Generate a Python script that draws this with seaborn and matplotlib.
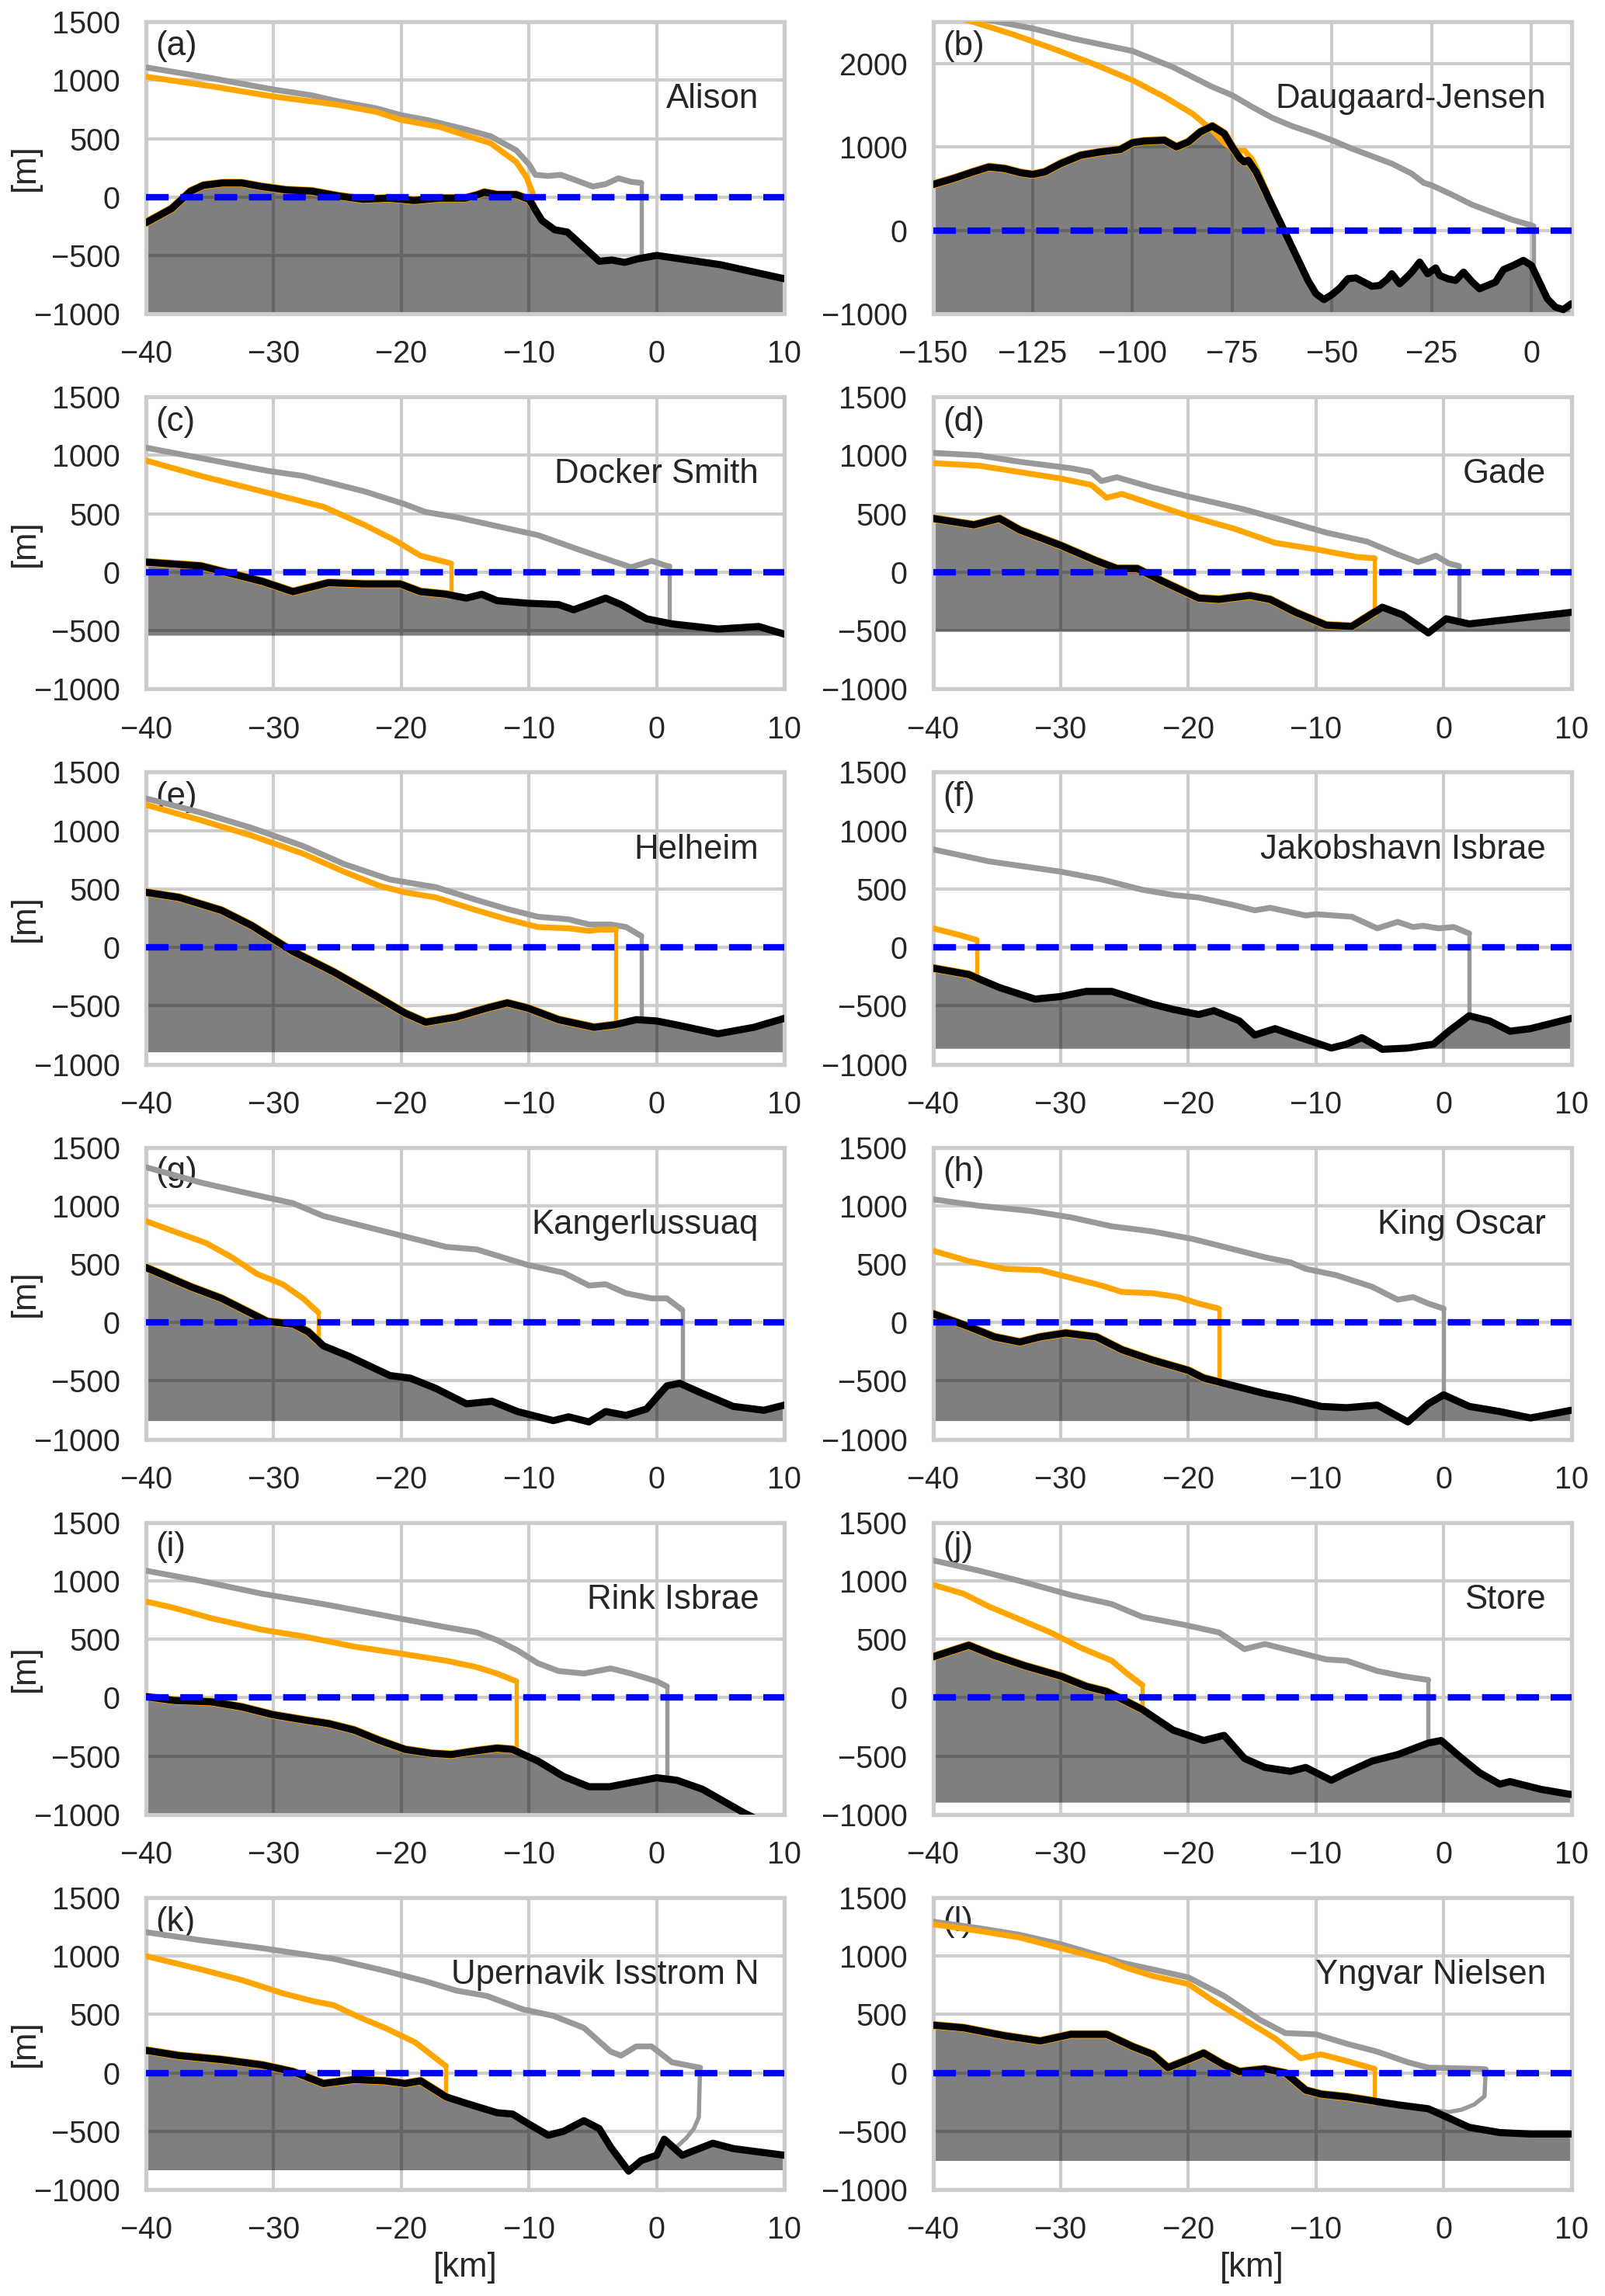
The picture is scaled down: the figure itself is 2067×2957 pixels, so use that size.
import numpy as np
import matplotlib
matplotlib.use("Agg")
import matplotlib.pyplot as plt
import seaborn as sns

# Glacier names and panel tags
names = ["Alison", "Daugaard-Jensen", "Docker Smith", "Gade", "Helheim", "Jakobshavn Isbrae",
         "Kangerlussuaq", "King Oscar", "Rink Isbrae", "Store", "Upernavik Isstrom N", "Yngvar Nielsen"]
tags = ["(a)", "(b)", "(c)", "(d)", "(e)", "(f)", "(g)", "(h)", "(i)", "(j)", "(k)", "(l)"]

# bottom of the shaded bed area [m]
fill_base = [-1000, -1000, -540, -505, -895, -865, -840, -840, -1000, -895, -830, -750]

# ---- (a) Alison
alison_bed_x = [-40, -38, -36.5, -35.5, -34, -32.5, -31, -29, -27, -25, -23, -21, -19, -17, -15, -14, -13.5,
                -12.5, -11, -10, -9, -8, -7, -6, -4.5, -3.5, -2.5, -1.5, 0, 5, 10]
alison_bed_y = [-220, -100, 50, 100, 120, 120, 90, 60, 50, 10, -20, -10, -30, -10, -10, 20, 40,
                20, 20, -20, -200, -280, -300, -400, -550, -540, -560, -530, -500, -580, -700]
alison_or_x = [-40, -35, -30, -25, -22, -20, -17, -15, -13, -12, -11, -10.2, -9.7]
alison_or_y = [1030, 950, 860, 790, 730, 660, 600, 530, 460, 380, 300, 170, 30]
alison_gr_x = [-40, -35, -30, -27, -25, -22, -20, -18, -15, -13, -12, -11, -10, -9.5, -8.5, -7.5, -6.5,
               -5, -4, -3, -2, -1.2]
alison_gr_y = [1110, 1020, 920, 870, 820, 760, 700, 660, 580, 520, 460, 400, 280, 190, 180, 190, 150,
               90, 110, 160, 130, 120]

# ---- (b) Daugaard-Jensen
daug_bed_x = [-150, -145, -140, -136, -132, -128, -125, -122, -118, -113, -108, -103, -100, -97, -92, -89,
              -86, -83, -80, -77, -75, -73, -72, -71, -69, -67, -65, -62, -59, -56, -54, -52, -50, -48,
              -46, -44, -42, -40, -38, -36, -35, -33, -31, -30, -28, -26, -24, -23, -21, -19, -17, -15,
              -13, -11, -9, -7, -5, -2, 0, 2, 4, 6, 8, 10]
daug_bed_y = [550, 620, 700, 760, 740, 690, 670, 700, 800, 900, 940, 970, 1050, 1070, 1080, 1000,
              1060, 1180, 1250, 1160, 1000, 860, 820, 840, 700, 500, 300, 0, -300, -600, -760, -830,
              -770, -690, -580, -570, -620, -670, -660, -580, -520, -640, -550, -500, -380, -520, -450,
              -540, -580, -600, -500, -610, -700, -660, -620, -470, -430, -360, -420, -620, -820, -920,
              -950, -880]
daug_or_x = [-142, -130, -120, -110, -100, -92, -85, -80, -77, -74, -72, -70, -68, -66.5]
daug_or_y = [2530, 2350, 2180, 2000, 1800, 1600, 1400, 1200, 1050, 950, 960, 850, 650, 470]
daug_gr_x = [-137, -125, -115, -105, -100, -90, -80, -75, -70, -65, -60, -55, -50, -45, -40, -35, -30,
             -27, -25, -20, -15, -10, -5, 0, 0.5]
daug_gr_y = [2530, 2420, 2300, 2200, 2150, 1960, 1720, 1620, 1480, 1350, 1250, 1170, 1080, 980, 890,
             800, 680, 570, 540, 430, 310, 220, 130, 60, 50]

# ---- (c) Docker Smith
docker_bed_x = [-40, -35.7, -33.3, -30.9, -28.5, -25.7, -22.9, -20.1, -18.5, -16.5, -14.9, -13.7, -12.5,
                -10.1, -7.7, -6.5, -4.0, -2.8, -0.8, 1.2, 4.8, 8.0, 10]
docker_bed_y = [86, 53, -13, -79, -167, -90, -101, -101, -167, -189, -222, -189, -244, -266, -277, -322,
                -222, -277, -399, -443, -487, -465, -531]
docker_or_x = [-40, -35.7, -30.5, -26.1, -22.9, -20.5, -18.5, -16.1]
docker_or_y = [956, 824, 681, 560, 405, 273, 141, 75]
docker_gr_x = [-40, -30.5, -27.7, -22.9, -19.7, -18.1, -15.7, -12.5, -9.3, -5.3, -2.0, -0.4, 0.8, 1.0]
docker_gr_y = [1066, 868, 824, 692, 581, 515, 471, 394, 317, 163, 42, 97, 53, 50]

# ---- (d) Gade
gade_bed_x = [-40, -36.8, -34.8, -33.2, -30, -27.2, -25.6, -24, -22, -19.2, -17.6, -15.2, -13.6, -11.6,
              -9.2, -7.2, -4.8, -3.2, -1.2, 0.2, 2, 10]
gade_bed_y = [460, 405, 460, 361, 229, 97, 31, 31, -79, -222, -233, -200, -233, -344, -454, -465, -300,
              -366, -520, -399, -443, -344]
gade_or_x = [-40, -36.4, -33.2, -30, -27.6, -26.4, -25.2, -22.8, -20, -16.4, -13.2, -10, -6.8, -5.4]
gade_or_y = [934, 912, 857, 802, 747, 637, 670, 582, 483, 372, 251, 196, 130, 119]
gade_gr_x = [-40, -36.4, -33.2, -29.2, -27.6, -26.8, -25.6, -22.8, -20, -15.6, -12, -9.2, -6, -3.6, -2,
             -0.6, 0.4, 1.2]
gade_gr_y = [1022, 1000, 945, 890, 857, 780, 813, 725, 648, 537, 427, 339, 262, 152, 86, 141, 75, 53]

# ---- (e) Helheim
helheim_bed_x = [-40, -37.4, -34.1, -31.7, -28.5, -25.3, -22.1, -19.7, -18.1, -15.7, -13.3, -11.7, -10.1,
                 -7.7, -4.9, -3.3, -1.6, 0, 2, 4.8, 7.6, 10]
helheim_bed_y = [471, 427, 317, 185, -35, -211, -410, -564, -641, -597, -520, -476, -520, -619, -685,
                 -663, -619, -630, -674, -740, -685, -608]
helheim_or_x = [-40, -35.7, -31.7, -27.7, -24.5, -21.7, -19.7, -17.3, -14.1, -11.7, -9.3, -6.9, -5.3,
                -4.5, -3.2]
helheim_or_y = [1220, 1088, 956, 802, 648, 526, 471, 427, 317, 240, 174, 163, 141, 152, 152]
helheim_gr_x = [-40, -35.7, -31.7, -27.7, -24.5, -20.9, -17.3, -14.1, -11.7, -9.3, -6.9, -5.3, -3.6,
                -2.4, -1.2]
helheim_gr_y = [1275, 1154, 1022, 868, 714, 581, 515, 405, 328, 262, 240, 196, 196, 174, 97]

# ---- (f) Jakobshavn Isbrae
jak_bed_x = [-40, -37.2, -34.8, -32, -30, -28, -26, -24.4, -22.8, -21.2, -19.2, -18, -16, -14.8, -13.2,
             -11.2, -8.8, -7.6, -6.4, -4.8, -2.8, -0.8, 0.4, 2, 3.6, 5.2, 6.8, 10]
jak_bed_y = [-178, -233, -344, -443, -421, -377, -377, -432, -487, -531, -575, -542, -630, -751, -696,
             -773, -862, -829, -773, -873, -862, -829, -718, -586, -630, -718, -696, -608]
jak_or_x = [-40, -38, -36.6]
jak_or_y = [163, 108, 64]
jak_gr_x = [-40, -35.6, -30, -26.8, -23.6, -21.2, -19.2, -16.4, -14.8, -13.6, -10.8, -10, -7.2, -5.2,
            -3.6, -2.4, -1.6, -0.4, 0.8, 2]
jak_gr_y = [839, 736, 648, 582, 493, 449, 427, 361, 317, 339, 273, 284, 262, 163, 218, 174, 185, 163,
            174, 119]

# ---- (g) Kangerlussuaq
kang_bed_x = [-40, -36.5, -34.1, -31.7, -30.5, -28.5, -27.3, -26.1, -24.1, -20.9, -19.3, -17.3, -14.9,
              -12.9, -10.9, -8.1, -6.9, -5.3, -4.0, -2.4, -0.8, 0.8, 1.8, 3.6, 6, 8.4, 10]
kang_bed_y = [471, 306, 207, 75, 9, -13, -79, -200, -289, -454, -476, -564, -696, -674, -762, -840, -807,
              -851, -762, -795, -740, -542, -520, -608, -718, -751, -707]
kang_or_x = [-40, -37.8, -35.3, -33.3, -31.3, -29.3, -27.7, -26.5]
kang_or_y = [868, 780, 681, 560, 416, 328, 207, 86]
kang_gr_x = [-40, -35.7, -31.7, -28.5, -26.1, -22.9, -19.7, -16.5, -14.1, -10.1, -7.3, -5.3, -4, -2.4,
             -0.4, 0.8, 2]
kang_gr_y = [1330, 1198, 1099, 1022, 912, 824, 736, 648, 626, 493, 427, 317, 328, 251, 207, 207, 108]

# ---- (h) King Oscar
king_bed_x = [-40, -37.2, -35.2, -33.2, -31.6, -29.6, -27.2, -25.2, -22.8, -20, -18.8, -16.4, -14, -12,
              -9.6, -7.6, -5.2, -2.8, -1.2, 0, 2, 4.4, 6.8, 10]
king_bed_y = [75, -35, -123, -167, -123, -90, -123, -233, -322, -410, -476, -542, -608, -652, -718, -729,
              -707, -851, -696, -619, -718, -762, -817, -751]
king_or_x = [-40, -37.2, -34.4, -31.6, -29.2, -26.8, -25.2, -22.8, -20.8, -19.2, -17.6]
king_or_y = [615, 526, 460, 449, 383, 317, 262, 251, 218, 163, 119]
king_gr_x = [-40, -36.4, -32.4, -29.2, -26, -22.8, -19.6, -17.2, -14, -12, -10.8, -8.4, -5.6, -3.6, -2.4,
             -1.2, 0]
king_gr_y = [1055, 1000, 956, 901, 824, 780, 714, 648, 559, 515, 460, 405, 306, 196, 218, 163, 119]

# ---- (i) Rink Isbrae
rink_bed_x = [-40, -37.8, -34.9, -32.5, -30.1, -27.7, -25.7, -23.7, -21.7, -19.7, -17.7, -16.1, -14.1,
              -12.5, -11.3, -9.3, -7.3, -5.3, -3.7, -1.6, 0, 1.6, 3.6, 5.2, 6.8, 7.6, 10]
rink_bed_y = [9, -24, -35, -79, -145, -189, -222, -277, -366, -443, -476, -487, -454, -432, -443, -542,
              -674, -762, -762, -718, -685, -707, -784, -884, -983, -1027, -1250]
rink_or_x = [-40, -37.8, -34.9, -30.9, -27.7, -23.7, -19.7, -16.5, -14.1, -12.5, -11]
rink_or_y = [824, 769, 681, 582, 526, 438, 372, 317, 262, 207, 141]
rink_gr_x = [-40, -35.7, -30.9, -26.1, -21.3, -16.5, -14.1, -12.5, -10.9, -9.3, -7.7, -5.7, -3.6, -2.0,
             0, 0.8]
rink_gr_y = [1088, 1000, 890, 802, 703, 604, 559, 493, 405, 295, 229, 207, 251, 207, 141, 97]

# ---- (j) Store
store_bed_x = [-40, -37.2, -35.2, -32.8, -30, -28, -26.4, -25.2, -23.6, -21.2, -18.8, -17.2, -15.6, -14,
               -12, -10.8, -8.8, -7.6, -5.6, -3.6, -1.2, -0.2, 1.2, 2.8, 4.4, 5.2, 7.6, 10]
store_bed_y = [350, 449, 361, 273, 185, 97, 53, -13, -101, -277, -366, -322, -520, -597, -630, -597,
               -707, -641, -542, -487, -388, -366, -498, -641, -740, -718, -784, -829]
store_or_x = [-40, -37.6, -35.6, -33.2, -30.8, -28.4, -26, -24.8, -23.6]
store_or_y = [967, 890, 780, 670, 559, 427, 317, 207, 108]
store_gr_x = [-40, -36.4, -33.2, -29.2, -26, -23.6, -20.4, -17.6, -15.6, -14, -11.6, -9.2, -7.6, -5.2,
              -3.2, -1.2]
store_gr_y = [1176, 1088, 1000, 879, 802, 692, 626, 559, 416, 460, 394, 328, 317, 229, 185, 152]

# ---- (k) Upernavik Isstrom N
upn_bed_x = [-40, -37.4, -34.1, -30.9, -28.5, -26.1, -23.7, -21.3, -19.7, -18.5, -16.5, -14.9, -12.5,
             -11.3, -10.1, -8.5, -7.3, -5.7, -4.5, -3.6, -2.2, -1.2, 0, 0.6, 2, 4.4, 6, 10]
upn_bed_y = [193, 148, 114, 68, 11, -91, -57, -68, -91, -68, -205, -261, -341, -352, -432, -534, -500,
             -409, -477, -636, -841, -750, -705, -568, -705, -602, -648, -705]
upn_or_x = [-40, -35.7, -32.5, -29.3, -26.9, -25.3, -23.3, -21.3, -18.9, -16.5]
upn_or_y = [1000, 886, 795, 682, 614, 580, 477, 386, 261, 57]
upn_gr_x = [-40, -35.7, -30.9, -25.3, -21.3, -18.1, -15.7, -13.3, -10.5, -8.1, -5.7, -3.6, -2.8, -1.6,
            -0.4, 1.2, 2.8, 3.4]
upn_gr_y = [1205, 1136, 1068, 977, 875, 784, 705, 659, 545, 489, 386, 182, 148, 227, 227, 91, 57, 45]
upn_base_x = [3.4, 3.3, 2.9, 2.3, 1.5]
upn_base_y = [45, -380, -480, -560, -640]

# ---- (l) Yngvar Nielsen
yng_bed_x = [-40, -37.6, -34.4, -31.6, -29.2, -26.4, -24.4, -22.8, -21.6, -20, -18.8, -17.2, -16, -14,
             -12.4, -10.8, -9.6, -7.6, -5.6, -3.6, -1.2, 0.4, 2, 4.4, 6.8, 10]
yng_bed_y = [409, 386, 318, 273, 330, 330, 227, 159, 45, 114, 170, 68, 11, 34, 0, -148, -182, -205, -239,
             -273, -307, -386, -466, -511, -523, -523]
yng_or_x = [-40, -36.4, -33.2, -30, -26.4, -24.8, -22.8, -20, -18, -15.6, -13.2, -11.2, -9.6, -7.6, -5.4]
yng_or_y = [1273, 1216, 1159, 1068, 966, 898, 830, 761, 614, 455, 295, 125, 159, 102, 34]
yng_gr_x = [-40, -36.4, -33.2, -30, -26.8, -25.2, -22.8, -20, -17.2, -14.4, -12.4, -10, -7.6, -5.2, -2.8,
            -1.2, 0.4, 2.8, 3.3]
yng_gr_y = [1295, 1239, 1182, 1102, 1000, 943, 886, 818, 659, 455, 341, 330, 250, 182, 91, 45, 41, 34, 30]
yng_base_x = [3.3, 3.2, 2.4, 1.4, 0.4, -0.4, -1.2]
yng_base_y = [30, -200, -270, -315, -335, -325, -307]

glaciers = [
    (alison_bed_x, alison_bed_y, alison_or_x, alison_or_y, alison_gr_x, alison_gr_y, None, None),
    (daug_bed_x, daug_bed_y, daug_or_x, daug_or_y, daug_gr_x, daug_gr_y, None, None),
    (docker_bed_x, docker_bed_y, docker_or_x, docker_or_y, docker_gr_x, docker_gr_y, None, None),
    (gade_bed_x, gade_bed_y, gade_or_x, gade_or_y, gade_gr_x, gade_gr_y, None, None),
    (helheim_bed_x, helheim_bed_y, helheim_or_x, helheim_or_y, helheim_gr_x, helheim_gr_y, None, None),
    (jak_bed_x, jak_bed_y, jak_or_x, jak_or_y, jak_gr_x, jak_gr_y, None, None),
    (kang_bed_x, kang_bed_y, kang_or_x, kang_or_y, kang_gr_x, kang_gr_y, None, None),
    (king_bed_x, king_bed_y, king_or_x, king_or_y, king_gr_x, king_gr_y, None, None),
    (rink_bed_x, rink_bed_y, rink_or_x, rink_or_y, rink_gr_x, rink_gr_y, None, None),
    (store_bed_x, store_bed_y, store_or_x, store_or_y, store_gr_x, store_gr_y, None, None),
    (upn_bed_x, upn_bed_y, upn_or_x, upn_or_y, upn_gr_x, upn_gr_y, upn_base_x, upn_base_y),
    (yng_bed_x, yng_bed_y, yng_or_x, yng_or_y, yng_gr_x, yng_gr_y, yng_base_x, yng_base_y),
]

ORANGE = "#FFA500"
GREY = "#999999"


def line(ax, x, y, **kw):
    sns.lineplot(x=x, y=y, sort=False, estimator=None, ax=ax, **kw)


def draw_profile(ax, bx, by, sx, sy, color, lw, base_x=None, base_y=None, with_bed=False):
    line(ax, sx, sy, color=color, lw=lw, zorder=4)
    xf = sx[-1]
    if base_x is None:
        # calving front: straight down to the bed
        line(ax, [xf, xf], [sy[-1], np.interp(xf, bx, by)], color=color, lw=1.3, zorder=4)
    else:
        line(ax, base_x, base_y, color=color, lw=1.3, zorder=4)
    if with_bed:
        keep = [i for i in range(len(bx)) if bx[i] < xf]
        line(ax, [bx[i] for i in keep] + [xf], [by[i] for i in keep] + [np.interp(xf, bx, by)],
             color=color, lw=2.6, zorder=4)


sns.set_theme(style="whitegrid")
plt.rcParams["font.family"] = ["Liberation Sans", "DejaVu Sans"]

fig, axes = plt.subplots(6, 2, figsize=(2067 / 300, 2957 / 300), dpi=300)
fig.subplots_adjust(left=0.091, right=0.979, top=0.9905, bottom=0.0463, wspace=0.233, hspace=0.285)

for k, ax in enumerate(axes.flat):
    bx, by, ox, oy, gx, gy, fx, fy = glaciers[k]
    ax.fill_between(bx, by, fill_base[k], color="black", alpha=0.5, lw=0, zorder=2)
    draw_profile(ax, bx, by, gx, gy, GREY, 1.8, fx, fy)
    draw_profile(ax, bx, by, ox, oy, ORANGE, 1.8, with_bed=True)
    line(ax, bx, by, color="black", lw=2.2, zorder=5)
    ax.axhline(0, color="blue", ls="--", lw=2.0, dashes=(3.5, 1.8), zorder=6)

    if k == 1:
        ax.set_xlim(-150, 10)
        ax.set_ylim(-1000, 2500)
        ax.set_xticks([-150, -125, -100, -75, -50, -25, 0])
        ax.set_yticks([-1000, 0, 1000, 2000])
    else:
        ax.set_xlim(-40, 10)
        ax.set_ylim(-1000, 1500)
        ax.set_xticks([-40, -30, -20, -10, 0, 10])
        ax.set_yticks([-1000, -500, 0, 500, 1000, 1500])
    ax.tick_params(labelsize=9.5, pad=2)
    ax.set_xlabel("[km]" if k >= 10 else "", fontsize=10.5, labelpad=2)
    if k % 2 == 0:
        ax.set_ylabel("[m]", fontsize=10.5)
        ax.yaxis.set_label_coords(-0.165, 0.5)
    else:
        ax.set_ylabel("")
    ax.text(0.015, 0.97, tags[k], transform=ax.transAxes, ha="left", va="top", fontsize=10.5)
    ax.text(0.96, 0.735, names[k], transform=ax.transAxes, ha="right", va="center", fontsize=10.5)

fig.savefig("out.png", dpi=300)
